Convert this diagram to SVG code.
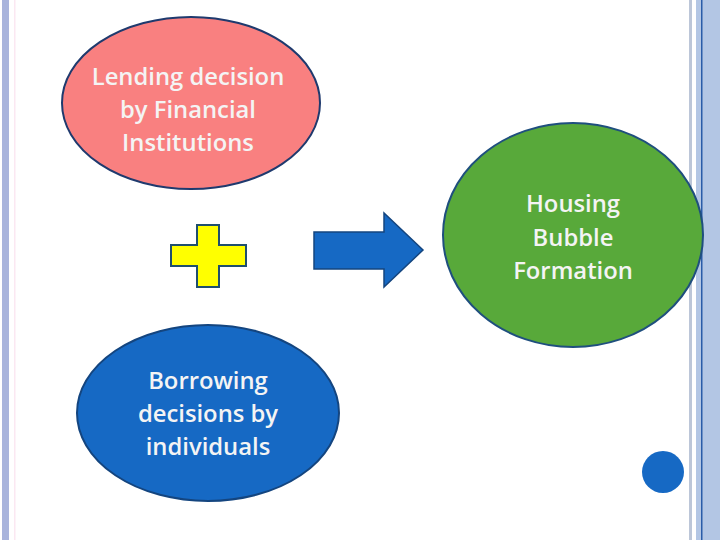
<svg xmlns="http://www.w3.org/2000/svg" width="720" height="540" viewBox="0 0 720 540">
<style>
.lbl{font-family:"Open Sans","Liberation Sans",sans-serif;font-size:23.8px;font-weight:600;fill:#F4F4F4;text-anchor:middle}
.node{stroke-width:2}
</style>
<rect width="720" height="540" fill="#FFFFFF"/>
<g id="frame">
<rect x="2" y="0" width="7" height="540" fill="#A9B4DC"/>
<rect x="14" y="0" width="1.5" height="540" fill="#FBE8F2"/>
<rect x="689" y="0" width="3" height="540" fill="#BCC6D8"/>
<rect x="696" y="0" width="24" height="540" fill="#B3C6E4"/>
<rect x="701" y="0" width="1.5" height="540" fill="#2A5CA8"/>
</g>
<g id="lending">
<ellipse class="node" cx="191" cy="103" rx="129" ry="86" fill="#F98080" stroke="#1F3A6E"/>
<text class="lbl" x="188" y="85">Lending decision</text>
<text class="lbl" x="188" y="118">by Financial</text>
<text class="lbl" x="188" y="151">Institutions</text>
</g>
<g id="housing">
<ellipse class="node" cx="573" cy="235" rx="130" ry="112" fill="#58A93A" stroke="#1F4F7E"/>
<text class="lbl" x="573" y="212">Housing</text>
<text class="lbl" x="573" y="246">Bubble</text>
<text class="lbl" x="573" y="279">Formation</text>
</g>
<g id="borrowing">
<ellipse class="node" cx="208" cy="413" rx="131" ry="88" fill="#1669C4" stroke="#14457F"/>
<text class="lbl" x="208" y="389">Borrowing</text>
<text class="lbl" x="208" y="422">decisions by</text>
<text class="lbl" x="208" y="455">individuals</text>
</g>
<g id="plus">
<path d="M197,225 H219 V245 H246 V266 H219 V287 H197 V266 H171 V245 H197 Z" fill="#FFFF00" stroke="#1F4F6E" stroke-width="2"/>
</g>
<g id="connectors">
<path d="M314,232 H384 V213 L423,250 L384,287 V269 H314 Z" fill="#1669C4" stroke="#14457F" stroke-width="1.5"/>
</g>
<g id="dot">
<circle cx="663" cy="472" r="21" fill="#1669C4"/>
</g>
</svg>
